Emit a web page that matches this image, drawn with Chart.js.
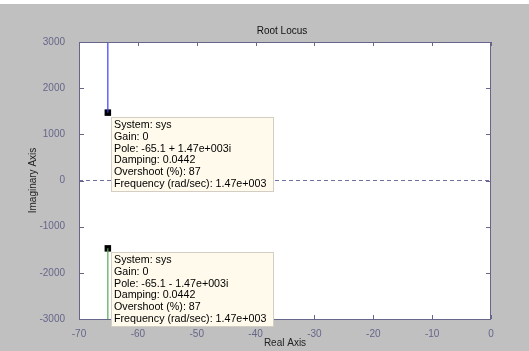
<!DOCTYPE html>
<html>
<head>
<meta charset="utf-8">
<script src="https://cdn.jsdelivr.net/npm/chart.js@4"></script>
<style>
  body { margin: 0; background: #ffffff; }
  .wrap { padding-top: 4px; width: 529px; height: 347px; }
  canvas { display: block; }
</style>
</head>
<body>
<div class="wrap"><canvas id="graficoLocus" width="529" height="347"></canvas></div>
<script>
// Root locus - dados
const poloReal = -65.1;
const poloImag = [1470, -1470];
const ramoSuperior = [1470, 3000];
const ramoInferior = [-1470, -3000];
const eixoReal = [-70, 0];
const ticksX = [-70, -60, -50, -40, -30, -20, -10, 0];
const ticksY = [-3000, -2000, -1000, 0, 1000, 2000, 3000];

const textoSuperior = [
  'System: sys',
  'Gain: 0',
  'Pole: -65.1 + 1.47e+003i',
  'Damping: 0.0442',
  'Overshoot (%): 87',
  'Frequency (rad/sec): 1.47e+003'
];
const textoInferior = [
  'System: sys',
  'Gain: 0',
  'Pole: -65.1 - 1.47e+003i',
  'Damping: 0.0442',
  'Overshoot (%): 87',
  'Frequency (rad/sec): 1.47e+003'
];

const corEixo = '#66668a';
const fonte = '"Liberation Sans", Arial, sans-serif';

// fundo cinza + area branca
const fundoPlugin = {
  id: 'fundo',
  beforeDraw(chart) {
    const { ctx, chartArea: a } = chart;
    ctx.save();
    ctx.fillStyle = '#c0c0c0';
    ctx.fillRect(0, 0, chart.width, chart.height);
    ctx.fillStyle = '#ffffff';
    ctx.fillRect(a.left, a.top, a.right - a.left, a.bottom - a.top);
    ctx.restore();
  }
};

// moldura com ticks para dentro (estilo matlab)
const molduraPlugin = {
  id: 'moldura',
  afterDatasetsDraw(chart) {
    const { ctx, chartArea: a, scales } = chart;
    ctx.save();
    ctx.strokeStyle = corEixo;
    ctx.lineWidth = 1;
    ctx.strokeRect(a.left + 0.5, a.top + 0.5, a.right - a.left - 1, a.bottom - a.top);
    ctx.beginPath();
    ticksX.forEach(v => {
      const x = Math.round(scales.x.getPixelForValue(v)) + 0.5;
      ctx.moveTo(x, a.top); ctx.lineTo(x, a.top + 4);
      ctx.moveTo(x, a.bottom); ctx.lineTo(x, a.bottom - 4);
    });
    ticksY.forEach(v => {
      const y = Math.round(scales.y.getPixelForValue(v)) + 0.5;
      ctx.moveTo(a.left, y); ctx.lineTo(a.left + 5, y);
      ctx.moveTo(a.right, y); ctx.lineTo(a.right - 5, y);
    });
    ctx.stroke();
    // titulo
    ctx.fillStyle = '#111111';
    ctx.font = '10px ' + fonte;
    ctx.textAlign = 'center';
    ctx.textBaseline = 'middle';
    ctx.fillText('Root Locus', (a.left + a.right) / 2 - 3, a.top - 11);
    ctx.restore();
  }
};

// caixas de informacao dos polos
const caixaPlugin = {
  id: 'caixas',
  afterDraw(chart) {
    const { ctx, scales } = chart;
    const caixas = [textoSuperior, textoInferior];
    ctx.save();
    caixas.forEach((linhas, i) => {
      const px = scales.x.getPixelForValue(poloReal);
      const py = scales.y.getPixelForValue(poloImag[i]);
      const x = Math.round(px) + 3.5;
      const y = Math.round(py) + 4.5;
      ctx.fillStyle = '#fffaec';
      ctx.strokeStyle = '#d2cec4';
      ctx.fillRect(x, y, 162, 74);
      ctx.strokeRect(x, y, 162, 74);
      ctx.fillStyle = '#000000';
      ctx.font = '10.7px ' + fonte;
      ctx.textAlign = 'left';
      ctx.textBaseline = 'middle';
      linhas.forEach((t, j) => {
        ctx.fillText(t, x + 2.5, y + 7.5 + j * 11.8);
      });
    });
    ctx.restore();
  }
};

const dadosLocus = {
  datasets: [
    {
      label: 'zero',
      data: eixoReal.map(v => ({ x: v, y: 0 })),
      showLine: true,
      borderColor: '#7070a0',
      borderWidth: 1,
      borderDash: [4, 3],
      pointRadius: 0
    },
    {
      label: 'ramo 1',
      data: ramoSuperior.map(v => ({ x: poloReal, y: v })),
      showLine: true,
      borderColor: '#3c3cff',
      borderWidth: 1.2,
      pointRadius: 0
    },
    {
      label: 'ramo 2',
      data: ramoInferior.map(v => ({ x: poloReal, y: v })),
      showLine: true,
      borderColor: '#55aa55',
      borderWidth: 1.2,
      pointRadius: 0
    },
    {
      label: 'polos',
      data: poloImag.map(v => ({ x: poloReal, y: v })),
      showLine: false,
      pointStyle: 'rect',
      pointRadius: 4.6,
      backgroundColor: '#000000',
      borderColor: '#000000',
      borderWidth: 0
    }
  ]
};

const configLocus = {
  type: 'scatter',
  data: dadosLocus,
  options: {
    responsive: false,
    animation: false,
    layout: { padding: { top: 38, right: 38, left: 0, bottom: 0 } },
    plugins: {
      legend: { display: false },
      tooltip: { enabled: false }
    },
    scales: {
      x: {
        type: 'linear',
        min: -70,
        max: 0,
        afterBuildTicks(s) { s.ticks = ticksX.map(v => ({ value: v })); },
        afterFit(s) { s.height = 32; },
        grid: { display: false },
        border: { display: false },
        ticks: { color: corEixo, font: { family: fonte, size: 10 }, padding: 1, maxRotation: 0, callback: v => String(v) },
        title: { display: true, text: 'Real Axis', color: '#222222', font: { family: fonte, size: 10 }, padding: { top: 0, bottom: 2 } }
      },
      y: {
        type: 'linear',
        min: -3000,
        max: 3000,
        afterBuildTicks(s) { s.ticks = ticksY.map(v => ({ value: v })); },
        afterFit(s) { s.width = 79; },
        grid: { display: false },
        border: { display: false },
        ticks: { color: corEixo, font: { family: fonte, size: 10 }, padding: 6, callback: v => String(v) },
        title: { display: true, text: 'Imaginary Axis', color: '#222222', font: { family: fonte, size: 10 }, padding: { top: 27, bottom: 0 } }
      }
    }
  },
  plugins: [fundoPlugin, molduraPlugin, caixaPlugin]
};

const graficoLocus = new Chart(document.getElementById('graficoLocus'), configLocus);
</script>
</body>
</html>
